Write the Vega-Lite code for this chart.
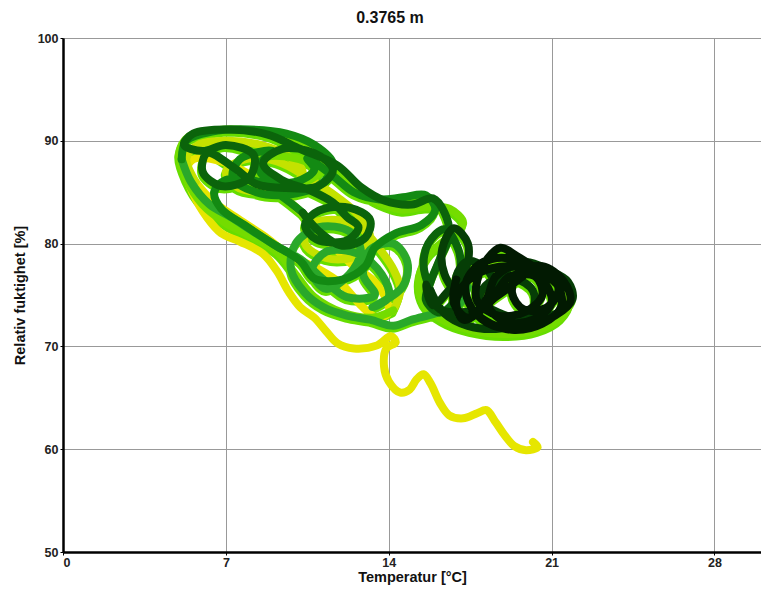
{
  "$schema": "https://vega.github.io/schema/vega-lite/v6.json",
  "width": 698,
  "height": 514,
  "autosize": "none",
  "padding": {"top": 38, "left": 63, "right": 0, "bottom": 40},
  "background": "white",
  "title": {"text": "0.3765 m", "font": "Liberation Sans", "fontSize": 16, "fontWeight": "bold", "color": "#111", "anchor": "middle", "dx": -22, "offset": 6},
  "config": {
    "view": {"stroke": null},
    "axis": {
      "labelFont": "Liberation Sans",
      "labelFontWeight": "bold",
      "labelFontSize": 12.5,
      "labelColor": "#222",
      "titleFont": "Liberation Sans",
      "titleFontWeight": "bold",
      "titleFontSize": 14.5,
      "titleColor": "#111",
      "gridColor": "#999",
      "gridWidth": 1,
      "gridOpacity": 1,
      "domainColor": "#000",
      "domainWidth": 2.5,
      "tickColor": "#000",
      "tickSize": 3
    }
  },
  "data": {"values": [
    {"t":1,"x":20.2,"y":60.7,"s":1},{"t":2,"x":20.4,"y":60.2,"s":1},{"t":3,"x":19.9,"y":59.9,"s":1},{"t":4,"x":19.4,"y":60.3,"s":1},{"t":5,"x":19.0,"y":61.3,"s":1},{"t":6,"x":18.6,"y":62.6,"s":1},{"t":7,"x":18.2,"y":63.8,"s":1},{"t":8,"x":17.8,"y":63.5,"s":1},{"t":9,"x":17.2,"y":63.0,"s":1},{"t":10,"x":16.6,"y":63.3,"s":1},{"t":11,"x":16.2,"y":64.5,"s":1},{"t":12,"x":15.8,"y":66.4,"s":1},{"t":13,"x":15.5,"y":67.3,"s":1},{"t":14,"x":15.2,"y":66.8,"s":1},{"t":15,"x":14.9,"y":65.8,"s":1},{"t":16,"x":14.5,"y":65.5,"s":1},{"t":17,"x":14.0,"y":66.6,"s":1},{"t":18,"x":13.8,"y":68.0,"s":1},{"t":19,"x":13.9,"y":69.8,"s":1},{"t":20,"x":14.3,"y":70.4,"s":1},{"t":21,"x":14.1,"y":71.0,"s":1},{"t":22,"x":13.5,"y":70.1,"s":1},{"t":23,"x":12.5,"y":69.8,"s":1},{"t":24,"x":11.8,"y":70.3,"s":1},{"t":25,"x":11.3,"y":71.5,"s":1},{"t":26,"x":10.8,"y":72.8,"s":1},{"t":27,"x":10.2,"y":73.8,"s":1},{"t":28,"x":9.7,"y":75.3,"s":1},{"t":29,"x":9.2,"y":77.3,"s":1},{"t":30,"x":8.6,"y":79.0,"s":1},{"t":31,"x":7.6,"y":80.2,"s":1},{"t":32,"x":6.8,"y":81.0,"s":1},{"t":33,"x":6.2,"y":82.5,"s":1},{"t":34,"x":5.6,"y":84.8,"s":1},{"t":35,"x":5.3,"y":87.0,"s":1},{"t":36,"x":5.6,"y":88.2,"s":1},{"t":37,"x":6.8,"y":88.0,"s":1},{"t":38,"x":8.2,"y":86.5,"s":1},{"t":39,"x":9.5,"y":84.5,"s":1},{"t":40,"x":10.5,"y":82.5,"s":1},{"t":41,"x":11.5,"y":80.0,"s":1},{"t":42,"x":12.5,"y":77.8,"s":1},{"t":43,"x":13.3,"y":76.5,"s":1},{"t":44,"x":13.8,"y":75.0,"s":1},{"t":45,"x":14.0,"y":73.3,"s":1},{"t":46,"x":13.5,"y":72.8,"s":1},{"t":47,"x":12.8,"y":74.0,"s":1},{"t":48,"x":12.0,"y":76.0,"s":1},{"t":49,"x":11.0,"y":77.5,"s":1},{"t":50,"x":9.8,"y":78.8,"s":1},{"t":51,"x":8.6,"y":80.8,"s":1},{"t":52,"x":7.4,"y":82.6,"s":1},{"t":53,"x":6.4,"y":84.2,"s":1},{"t":54,"x":5.7,"y":86.0,"s":1},
    {"t":54,"x":5.7,"y":86.0,"s":2},{"t":55,"x":5.3,"y":88.3,"s":2},{"t":56,"x":5.8,"y":89.6,"s":2},{"t":57,"x":7.0,"y":90.0,"s":2},{"t":58,"x":8.5,"y":89.6,"s":2},{"t":59,"x":9.6,"y":88.6,"s":2},{"t":60,"x":10.3,"y":87.0,"s":2},{"t":61,"x":9.8,"y":85.5,"s":2},{"t":62,"x":8.6,"y":85.0,"s":2},{"t":63,"x":7.4,"y":85.6,"s":2},{"t":64,"x":7.0,"y":87.0,"s":2},{"t":65,"x":7.8,"y":88.2,"s":2},{"t":66,"x":9.2,"y":88.0,"s":2},{"t":67,"x":10.6,"y":86.3,"s":2},{"t":68,"x":11.8,"y":84.5,"s":2},{"t":69,"x":12.8,"y":82.5,"s":2},{"t":70,"x":13.2,"y":80.5,"s":2},{"t":71,"x":12.6,"y":78.8,"s":2},{"t":72,"x":11.3,"y":78.6,"s":2},{"t":73,"x":10.4,"y":80.0,"s":2},{"t":74,"x":10.6,"y":81.8,"s":2},{"t":75,"x":11.8,"y":82.3,"s":2},{"t":76,"x":12.8,"y":81.5,"s":2},{"t":77,"x":13.6,"y":79.5,"s":2},{"t":78,"x":14.2,"y":77.5,"s":2},{"t":79,"x":14.5,"y":75.5,"s":2},{"t":80,"x":14.2,"y":73.5,"s":2},
    {"t":80,"x":14.2,"y":73.5,"s":3},{"t":81,"x":13.3,"y":72.8,"s":3},{"t":82,"x":12.0,"y":73.3,"s":3},{"t":83,"x":10.8,"y":74.8,"s":3},{"t":84,"x":10.0,"y":77.0,"s":3},{"t":85,"x":9.2,"y":79.2,"s":3},{"t":86,"x":8.0,"y":80.8,"s":3},{"t":87,"x":7.0,"y":82.0,"s":3},{"t":88,"x":6.0,"y":83.8,"s":3},{"t":89,"x":5.3,"y":86.3,"s":3},{"t":90,"x":5.0,"y":88.8,"s":3},{"t":91,"x":5.4,"y":90.4,"s":3},{"t":92,"x":6.5,"y":91.0,"s":3},{"t":93,"x":8.0,"y":91.0,"s":3},{"t":94,"x":9.4,"y":90.4,"s":3},{"t":95,"x":10.6,"y":89.2,"s":3},{"t":96,"x":11.2,"y":87.6,"s":3},{"t":97,"x":10.6,"y":86.2,"s":3},{"t":98,"x":9.2,"y":85.8,"s":3},{"t":99,"x":8.2,"y":86.8,"s":3},{"t":100,"x":8.6,"y":88.3,"s":3},{"t":101,"x":10.0,"y":88.3,"s":3},{"t":102,"x":11.6,"y":86.8,"s":3},{"t":103,"x":12.6,"y":85.3,"s":3},{"t":104,"x":13.6,"y":84.0,"s":3},{"t":105,"x":14.6,"y":83.3,"s":3},{"t":106,"x":15.6,"y":83.6,"s":3},{"t":107,"x":16.6,"y":83.4,"s":3},{"t":108,"x":17.2,"y":82.0,"s":3},{"t":109,"x":16.5,"y":80.5,"s":3},{"t":110,"x":15.7,"y":78.8,"s":3},{"t":111,"x":15.3,"y":76.5,"s":3},{"t":112,"x":15.5,"y":74.2,"s":3},{"t":113,"x":16.3,"y":72.6,"s":3},{"t":114,"x":17.5,"y":71.6,"s":3},{"t":115,"x":19.0,"y":71.2,"s":3},{"t":116,"x":20.4,"y":71.6,"s":3},{"t":117,"x":21.4,"y":72.8,"s":3},{"t":118,"x":21.8,"y":74.5,"s":3},{"t":119,"x":21.3,"y":76.3,"s":3},{"t":120,"x":20.3,"y":77.8,"s":3},{"t":121,"x":19.0,"y":78.6,"s":3},{"t":122,"x":17.9,"y":77.6,"s":3},{"t":123,"x":17.4,"y":75.8,"s":3},
    {"t":123,"x":17.4,"y":75.8,"s":4},{"t":124,"x":17.0,"y":74.0,"s":4},{"t":125,"x":16.0,"y":73.2,"s":4},{"t":126,"x":15.0,"y":72.6,"s":4},{"t":127,"x":14.2,"y":72.0,"s":4},{"t":128,"x":13.2,"y":72.6,"s":4},{"t":129,"x":12.2,"y":73.0,"s":4},{"t":130,"x":11.2,"y":73.8,"s":4},{"t":131,"x":10.4,"y":75.2,"s":4},{"t":132,"x":9.8,"y":77.5,"s":4},{"t":133,"x":10.0,"y":80.0,"s":4},{"t":134,"x":11.0,"y":81.6,"s":4},{"t":135,"x":12.3,"y":81.2,"s":4},{"t":136,"x":12.8,"y":79.3,"s":4},{"t":137,"x":12.3,"y":77.0,"s":4},{"t":138,"x":11.3,"y":75.6,"s":4},{"t":139,"x":10.7,"y":77.3,"s":4},{"t":140,"x":11.3,"y":79.2,"s":4},{"t":141,"x":12.7,"y":79.0,"s":4},{"t":142,"x":13.7,"y":77.0,"s":4},{"t":143,"x":14.0,"y":74.8,"s":4},{"t":144,"x":13.3,"y":73.8,"s":4},{"t":144.1,"x":14.6,"y":75.8,"s":4},{"t":144.2,"x":14.8,"y":78.2,"s":4},{"t":144.3,"x":14.2,"y":80.0,"s":4},{"t":144.4,"x":13.2,"y":79.4,"s":4},{"t":144.5,"x":12.9,"y":77.0,"s":4},{"t":144.6,"x":13.4,"y":75.0,"s":4},{"t":145,"x":12.2,"y":74.8,"s":4},{"t":146,"x":11.2,"y":76.5,"s":4},{"t":147,"x":10.2,"y":78.5,"s":4},{"t":148,"x":9.3,"y":79.6,"s":4},{"t":149,"x":8.3,"y":81.0,"s":4},{"t":150,"x":7.2,"y":82.6,"s":4},{"t":151,"x":6.3,"y":83.8,"s":4},{"t":152,"x":5.5,"y":86.0,"s":4},{"t":153,"x":5.1,"y":88.2,"s":4},
    {"t":153,"x":5.1,"y":88.2,"s":5},{"t":154,"x":5.3,"y":90.0,"s":5},{"t":155,"x":6.4,"y":90.9,"s":5},{"t":156,"x":8.0,"y":91.1,"s":5},{"t":157,"x":9.6,"y":90.7,"s":5},{"t":158,"x":10.8,"y":89.6,"s":5},{"t":159,"x":11.6,"y":87.8,"s":5},{"t":160,"x":11.2,"y":86.0,"s":5},{"t":161,"x":9.8,"y":84.8,"s":5},{"t":162,"x":8.3,"y":85.0,"s":5},{"t":163,"x":7.3,"y":86.4,"s":5},{"t":164,"x":7.6,"y":88.2,"s":5},{"t":165,"x":9.0,"y":89.0,"s":5},{"t":165.1,"x":8.4,"y":87.6,"s":5},{"t":165.2,"x":8.8,"y":86.2,"s":5},{"t":165.3,"x":10.0,"y":86.0,"s":5},{"t":165.4,"x":10.8,"y":87.2,"s":5},{"t":166,"x":10.5,"y":88.3,"s":5},{"t":167,"x":11.6,"y":86.6,"s":5},{"t":168,"x":12.5,"y":85.0,"s":5},{"t":169,"x":13.6,"y":84.3,"s":5},{"t":170,"x":14.6,"y":84.5,"s":5},{"t":171,"x":15.6,"y":84.7,"s":5},{"t":172,"x":16.0,"y":83.3,"s":5},{"t":173,"x":15.4,"y":81.8,"s":5},{"t":174,"x":14.3,"y":81.0,"s":5},{"t":175,"x":13.4,"y":79.6,"s":5},{"t":176,"x":13.0,"y":77.8,"s":5},{"t":177,"x":12.0,"y":76.5,"s":5},{"t":178,"x":10.8,"y":76.6,"s":5},{"t":179,"x":10.2,"y":78.3,"s":5},{"t":180,"x":9.0,"y":80.0,"s":5},{"t":181,"x":7.8,"y":81.8,"s":5},{"t":182,"x":6.8,"y":83.4,"s":5},{"t":183,"x":6.5,"y":85.0,"s":5},{"t":184,"x":7.0,"y":86.2,"s":5},{"t":185,"x":8.4,"y":86.0,"s":5},{"t":186,"x":9.4,"y":84.6,"s":5},{"t":187,"x":10.3,"y":83.0,"s":5},
    {"t":187,"x":10.3,"y":83.0,"s":6},{"t":188,"x":11.0,"y":81.2,"s":6},{"t":189,"x":12.0,"y":79.8,"s":6},{"t":190,"x":13.0,"y":80.6,"s":6},{"t":191,"x":13.2,"y":82.3,"s":6},{"t":192,"x":12.3,"y":83.5,"s":6},{"t":193,"x":11.0,"y":83.2,"s":6},{"t":194,"x":10.4,"y":81.8,"s":6},{"t":195,"x":10.9,"y":80.4,"s":6},{"t":196,"x":12.2,"y":80.3,"s":6},{"t":197,"x":12.7,"y":81.6,"s":6},{"t":198,"x":12.2,"y":82.6,"s":6},{"t":199,"x":11.6,"y":84.0,"s":6},{"t":200,"x":10.6,"y":85.2,"s":6},{"t":201,"x":9.4,"y":86.2,"s":6},{"t":202,"x":8.6,"y":87.8,"s":6},{"t":203,"x":9.4,"y":89.2,"s":6},{"t":204,"x":10.8,"y":88.8,"s":6},{"t":205,"x":11.6,"y":87.2,"s":6},{"t":206,"x":11.0,"y":85.6,"s":6},{"t":207,"x":9.6,"y":85.4,"s":6},{"t":208,"x":8.3,"y":85.8,"s":6},{"t":209,"x":7.4,"y":87.3,"s":6},{"t":210,"x":6.2,"y":88.8,"s":6},{"t":210.1,"x":6.0,"y":87.0,"s":6},{"t":210.2,"x":6.8,"y":85.6,"s":6},{"t":210.3,"x":8.0,"y":86.4,"s":6},{"t":210.4,"x":8.2,"y":88.6,"s":6},{"t":210.5,"x":7.0,"y":89.6,"s":6},{"t":210.6,"x":6.0,"y":89.0,"s":6},{"t":211,"x":5.2,"y":89.6,"s":6},{"t":212,"x":5.6,"y":90.7,"s":6},{"t":213,"x":7.2,"y":91.1,"s":6},{"t":214,"x":8.8,"y":90.6,"s":6},{"t":215,"x":10.2,"y":89.2,"s":6},{"t":216,"x":11.8,"y":87.6,"s":6},{"t":217,"x":12.8,"y":85.5,"s":6},{"t":218,"x":13.8,"y":84.2,"s":6},{"t":219,"x":15.0,"y":83.8,"s":6},{"t":220,"x":15.9,"y":84.4,"s":6},{"t":221,"x":16.4,"y":83.0,"s":6},{"t":222,"x":16.6,"y":80.8,"s":6},{"t":223,"x":16.2,"y":78.5,"s":6},{"t":224,"x":15.8,"y":76.3,"s":6},{"t":225,"x":15.6,"y":74.5,"s":6},{"t":226,"x":16.2,"y":73.3,"s":6},{"t":227,"x":16.9,"y":74.6,"s":6},{"t":228,"x":17.1,"y":77.0,"s":6},{"t":229,"x":17.0,"y":79.4,"s":6},{"t":230,"x":16.4,"y":81.4,"s":6},{"t":231,"x":15.7,"y":80.0,"s":6},{"t":232,"x":15.5,"y":77.8,"s":6},{"t":233,"x":15.8,"y":75.4,"s":6},
    {"t":233,"x":15.8,"y":75.4,"s":7},{"t":234,"x":16.4,"y":73.2,"s":7},{"t":235,"x":17.4,"y":72.0,"s":7},{"t":236,"x":18.6,"y":71.7,"s":7},{"t":237,"x":19.6,"y":72.2,"s":7},{"t":238,"x":20.2,"y":73.6,"s":7},{"t":239,"x":20.2,"y":75.4,"s":7},{"t":240,"x":19.4,"y":76.6,"s":7},{"t":241,"x":18.3,"y":76.2,"s":7},{"t":242,"x":17.9,"y":74.6,"s":7},{"t":243,"x":18.7,"y":73.3,"s":7},{"t":244,"x":20.0,"y":72.6,"s":7},{"t":245,"x":21.2,"y":73.2,"s":7},{"t":246,"x":21.9,"y":74.6,"s":7},{"t":247,"x":21.7,"y":76.3,"s":7},{"t":248,"x":20.9,"y":77.4,"s":7},{"t":249,"x":19.9,"y":78.2,"s":7},{"t":250,"x":19.0,"y":77.3,"s":7},{"t":251,"x":18.8,"y":75.6,"s":7},{"t":252,"x":18.2,"y":77.5,"s":7},{"t":253,"x":17.4,"y":78.3,"s":7},{"t":254,"x":16.9,"y":76.8,"s":7},{"t":255,"x":17.0,"y":75.0,"s":7},{"t":255.1,"x":16.4,"y":77.0,"s":7},{"t":255.2,"x":16.3,"y":79.5,"s":7},{"t":255.3,"x":16.8,"y":81.5,"s":7},{"t":255.4,"x":17.4,"y":80.0,"s":7},{"t":255.5,"x":17.3,"y":77.5,"s":7},{"t":255.6,"x":16.6,"y":75.5,"s":7},{"t":255.7,"x":15.9,"y":74.0,"s":7},{"t":255.8,"x":15.6,"y":76.0,"s":7},{"t":255.9,"x":16.2,"y":73.6,"s":7},{"t":256,"x":17.6,"y":73.4,"s":7},
    {"t":256,"x":17.6,"y":73.4,"s":8},{"t":257,"x":18.4,"y":72.2,"s":8},{"t":258,"x":19.4,"y":71.6,"s":8},{"t":259,"x":20.6,"y":72.2,"s":8},{"t":260,"x":21.4,"y":73.8,"s":8},{"t":261,"x":21.3,"y":75.8,"s":8},{"t":262,"x":20.5,"y":77.3,"s":8},{"t":263,"x":19.5,"y":78.8,"s":8},{"t":264,"x":18.8,"y":79.6,"s":8},{"t":265,"x":18.2,"y":78.4,"s":8},{"t":266,"x":17.8,"y":76.4,"s":8},{"t":267,"x":17.8,"y":74.4,"s":8},{"t":268,"x":18.7,"y":73.0,"s":8},{"t":269,"x":19.9,"y":73.4,"s":8},{"t":270,"x":20.6,"y":75.0,"s":8},{"t":271,"x":20.3,"y":76.8,"s":8},{"t":272,"x":19.2,"y":76.8,"s":8},{"t":273,"x":18.6,"y":75.2,"s":8},{"t":274,"x":17.8,"y":73.2,"s":8},{"t":275,"x":17.2,"y":72.6,"s":8},{"t":276,"x":16.9,"y":74.4,"s":8},{"t":277,"x":17.4,"y":76.4,"s":8},{"t":278,"x":18.4,"y":77.6,"s":8},{"t":279,"x":19.7,"y":77.6,"s":8},{"t":280,"x":20.7,"y":76.2,"s":8},{"t":281,"x":21.0,"y":74.2,"s":8},{"t":282,"x":20.2,"y":72.6,"s":8},{"t":283,"x":19.0,"y":72.4,"s":8},{"t":284,"x":18.3,"y":74.0,"s":8},{"t":285,"x":19.2,"y":75.8,"s":8},{"t":286,"x":20.0,"y":77.6,"s":8},{"t":287,"x":19.0,"y":78.6,"s":8},{"t":288,"x":17.9,"y":78.0,"s":8},{"t":289,"x":17.3,"y":76.0,"s":8},{"t":290,"x":17.6,"y":73.6,"s":8},{"t":291,"x":18.5,"y":72.0,"s":8},{"t":292,"x":19.8,"y":71.8,"s":8},{"t":293,"x":21.0,"y":72.8,"s":8},{"t":294,"x":21.8,"y":74.4,"s":8},{"t":295,"x":21.5,"y":76.4,"s":8},{"t":296,"x":20.6,"y":77.8,"s":8},{"t":297,"x":19.6,"y":77.2,"s":8},{"t":298,"x":19.3,"y":75.2,"s":8},{"t":299,"x":19.8,"y":73.6,"s":8},{"t":300,"x":20.8,"y":73.8,"s":8},{"t":301,"x":21.3,"y":75.6,"s":8},{"t":302,"x":20.8,"y":77.2,"s":8},{"t":303,"x":19.6,"y":78.0,"s":8},{"t":304,"x":18.6,"y":76.8,"s":8},{"t":305,"x":18.2,"y":74.6,"s":8},{"t":306,"x":17.4,"y":72.8,"s":8},{"t":307,"x":16.8,"y":74.2,"s":8},{"t":308,"x":16.9,"y":76.5,"s":8}
  ]},
  "encoding": {
    "x": {"field": "x", "type": "quantitative", "scale": {"domain": [0, 30], "nice": false, "zero": false},
      "axis": {"values": [0, 7, 14, 21, 28], "title": "Temperatur [°C]", "titlePadding": 2, "labelPadding": 1}},
    "y": {"field": "y", "type": "quantitative", "scale": {"domain": [50, 100], "nice": false, "zero": false},
      "axis": {"values": [50, 60, 70, 80, 90, 100], "title": "Relativ fuktighet [%]", "titlePadding": 10, "labelPadding": 2}},
    "order": {"field": "t", "type": "quantitative"}
  },
  "layer": [
    {
      "transform": [{"filter": "datum.s > 1"}],
      "mark": {"type": "line", "interpolate": "catmull-rom", "color": "#66dd00", "strokeWidth": 8, "strokeCap": "round", "strokeJoin": "round", "yOffset": 3, "xOffset": -1}
    },
    {
      "mark": {"type": "line", "interpolate": "catmull-rom", "strokeWidth": 8, "strokeCap": "round", "strokeJoin": "round"},
      "encoding": {
        "color": {"field": "s", "type": "ordinal", "legend": null,
          "scale": {"domain": [1, 2, 3, 4, 5, 6, 7, 8], "range": ["#e6e600", "#c4e200", "#74dc00", "#2aa82a", "#138a13", "#0b640b", "#063e06", "#021a02"]}}
      }
    }
  ]
}
